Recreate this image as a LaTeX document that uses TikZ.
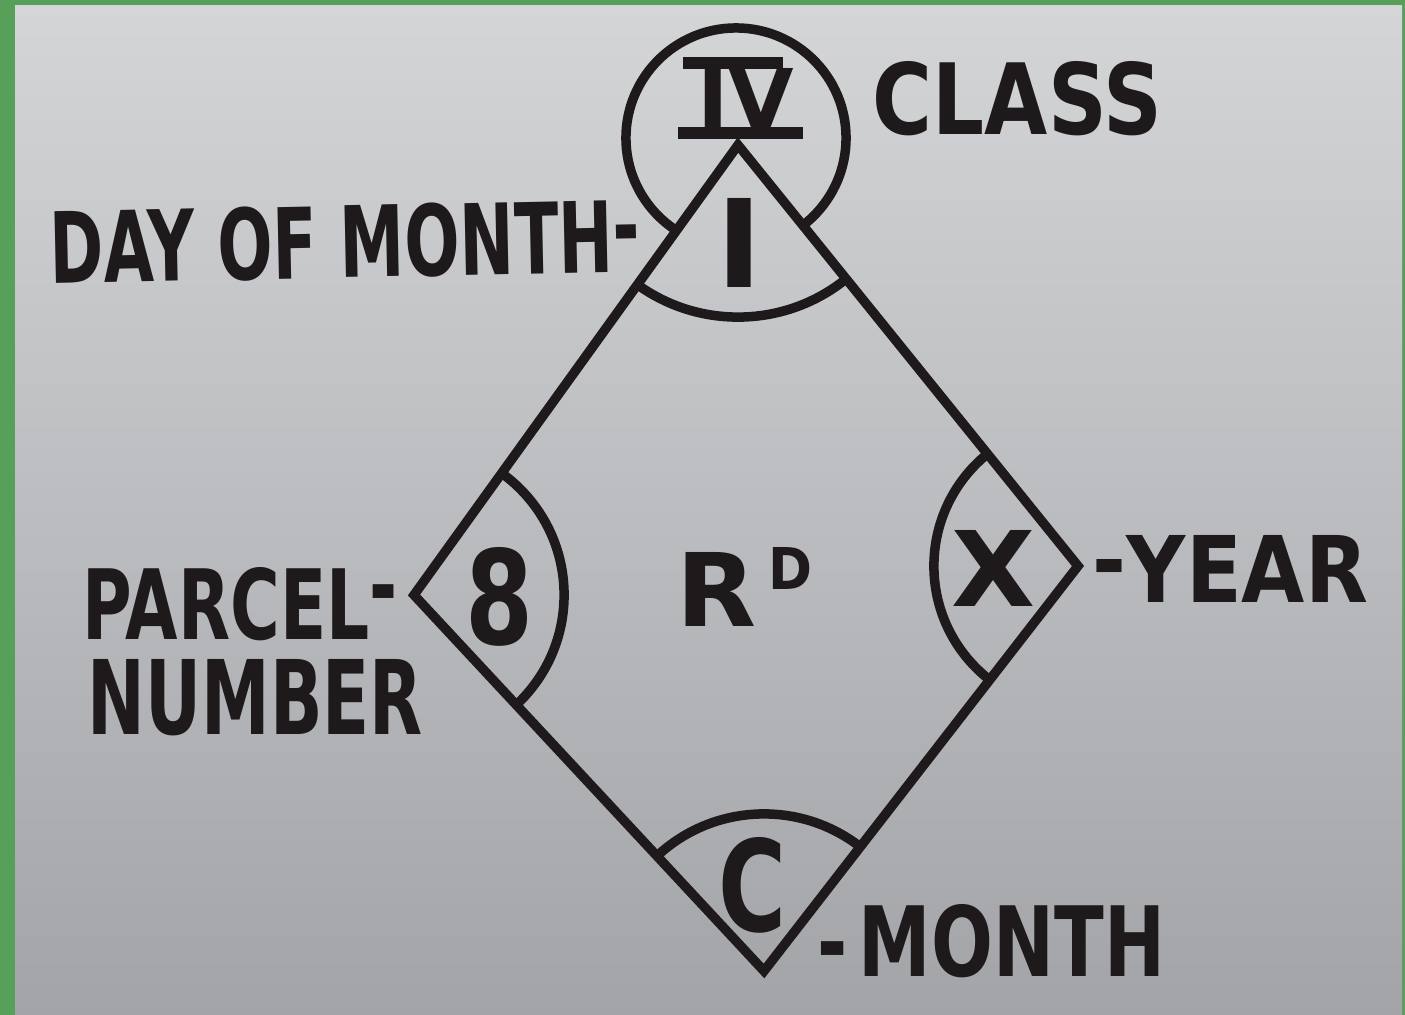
\documentclass[tikz,border=0pt]{standalone}
\usepackage{fontspec}
\setmainfont{DejaVu Sans}
\usepackage{graphicx}
\definecolor{ink}{HTML}{1E1A1B}
\definecolor{frame}{HTML}{58A05A}
\definecolor{papertop}{HTML}{D3D5D7}
\definecolor{papermid}{HTML}{C7C9CC}
\definecolor{paperbot}{HTML}{A3A4A8}
\newcommand\fitto[3]{\resizebox{#1mm}{#2mm}{#3}}
\begin{document}
\begin{tikzpicture}[x=0.01cm,y=-0.01cm,
  inkline/.style={draw=ink, line width=2.7pt},
  lbl/.style={inner sep=0pt, text=ink, font=\bfseries}]
\useasboundingbox (0,0) rectangle (1405,1015);
\fill[frame] (0,0) rectangle (1405,1015);
\shade[top color=papertop, middle color=papermid, bottom color=paperbot] (15,5) rectangle (1402,1015);
% diamond corners
\coordinate (T) at (738,145);
\coordinate (R) at (1078,566);
\coordinate (B) at (764,971);
\coordinate (L) at (414,595);
\coordinate (classc) at (736,138);
% corner arcs inside the diamond
\begin{scope}
  \clip (T) -- (R) -- (B) -- (L) -- cycle;
  \draw[inkline] (T) circle[radius=1.72cm];
  \draw[inkline] (L) circle[radius=1.50cm];
  \draw[inkline] (R) circle[radius=1.44cm];
  \draw[inkline] (B) circle[radius=1.57cm];
\end{scope}
% class circle, outside the diamond only
\begin{scope}[even odd rule]
  \clip (0,0) rectangle (1405,1015) (T) -- (R) -- (B) -- (L) -- cycle;
  \draw[inkline] (classc) circle[radius=1.10cm];
\end{scope}
\draw[inkline, line join=miter] (T) -- (R) -- (B) -- (L) -- cycle;
% class numeral with bars
\fill[ink] (683,57) rectangle (783,69);
\fill[ink] (678,127) rectangle (803,139);
\node[lbl] (cls) at (746,98) {\fitto{9.7}{6.0}{IV}};
% glyphs in the corners
\node[lbl] (dayno) at (740,242.5) {\fitto{4.6}{8.9}{I}};
\node[lbl] (parcelno) at (499.5,596.5) {\fitto{6.8}{9.7}{8}};
\node[lbl] (yearno) at (994,568) {\fitto{8.4}{7.6}{X}};
\node[lbl] (monthno) at (753,885) {\fitto{6.8}{9.4}{C}};
\node[lbl, anchor=south west] (rd) at (676,627) {\fitto{8.0}{7.4}{R}\hspace{1.2mm}\raisebox{3.7mm}{\fitto{4.4}{4.2}{D}}};
% outer labels
\node[lbl] (classlbl) at (1017.5,98.5) {\fitto{28.9}{7.3}{CLASS}};
\node[lbl, rotate=1.2] (daylbl) at (345,242) {\fitto{59}{7.3}{DAY OF MONTH\raisebox{.12em}{-}}};
\node[lbl] (parcellbl) at (240,604) {\fitto{31.5}{7.2}{PARCEL\raisebox{.2em}{-}}};
\node[lbl] (numberlbl) at (255.5,697.5) {\fitto{33.5}{7.5}{NUMBER}};
\node[lbl] (yearlbl) at (1230.5,568.5) {\fitto{27.5}{6.7}{\raisebox{.1em}{-}YEAR}};
\node[lbl] (monthlbl) at (991.5,941) {\fitto{34.7}{7.2}{-\kern.15em MONTH}};
\end{tikzpicture}
\end{document}
